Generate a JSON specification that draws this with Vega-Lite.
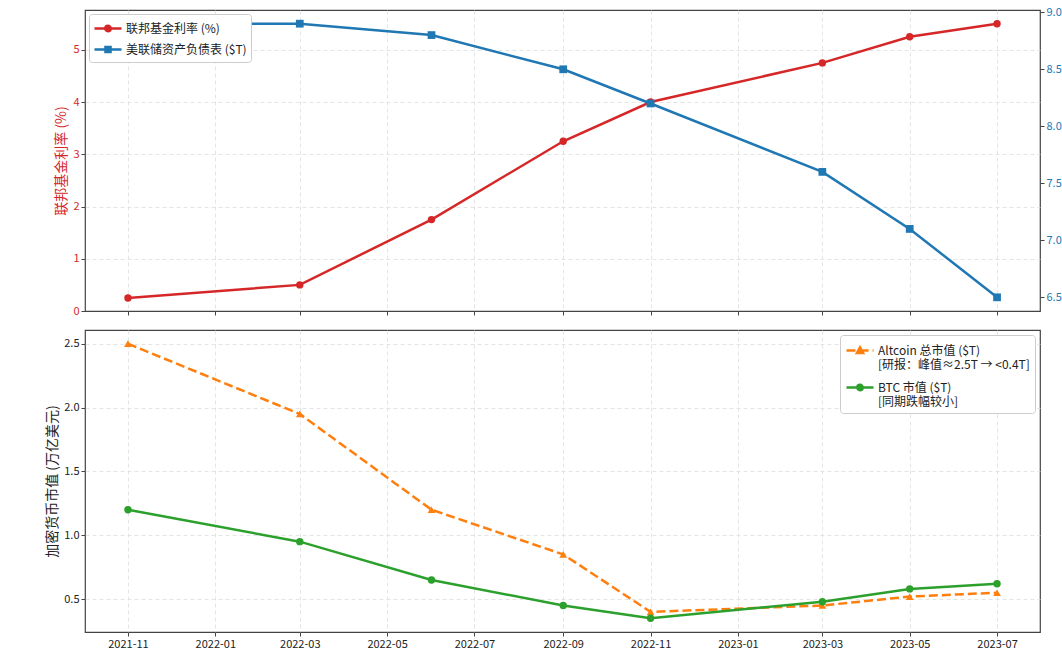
{
  "$schema": "https://vega.github.io/schema/vega-lite/v6.json",
  "padding": {"left": 45, "top": 5, "right": 0, "bottom": 5},
  "datasets": {
    "fed": [
      {"date": "2021-11-01", "series": "联邦基金利率 (%)", "value": 0.25},
      {"date": "2022-03-01", "series": "联邦基金利率 (%)", "value": 0.5},
      {"date": "2022-06-01", "series": "联邦基金利率 (%)", "value": 1.75},
      {"date": "2022-09-01", "series": "联邦基金利率 (%)", "value": 3.25},
      {"date": "2022-11-01", "series": "联邦基金利率 (%)", "value": 4.0},
      {"date": "2023-03-01", "series": "联邦基金利率 (%)", "value": 4.75},
      {"date": "2023-05-01", "series": "联邦基金利率 (%)", "value": 5.25},
      {"date": "2023-07-01", "series": "联邦基金利率 (%)", "value": 5.5},
      {"date": "2021-11-01", "series": "美联储资产负债表 ($T)", "value": 8.9},
      {"date": "2022-03-01", "series": "美联储资产负债表 ($T)", "value": 8.9},
      {"date": "2022-06-01", "series": "美联储资产负债表 ($T)", "value": 8.8},
      {"date": "2022-09-01", "series": "美联储资产负债表 ($T)", "value": 8.5},
      {"date": "2022-11-01", "series": "美联储资产负债表 ($T)", "value": 8.2},
      {"date": "2023-03-01", "series": "美联储资产负债表 ($T)", "value": 7.6},
      {"date": "2023-05-01", "series": "美联储资产负债表 ($T)", "value": 7.1},
      {"date": "2023-07-01", "series": "美联储资产负债表 ($T)", "value": 6.5}
    ],
    "crypto": [
      {"date": "2021-11-01", "asset": "Altcoin", "series": "Altcoin 总市值 ($T)|[研报：峰值≈2.5T → <0.4T]", "value": 2.5},
      {"date": "2022-03-01", "asset": "Altcoin", "series": "Altcoin 总市值 ($T)|[研报：峰值≈2.5T → <0.4T]", "value": 1.95},
      {"date": "2022-06-01", "asset": "Altcoin", "series": "Altcoin 总市值 ($T)|[研报：峰值≈2.5T → <0.4T]", "value": 1.2},
      {"date": "2022-09-01", "asset": "Altcoin", "series": "Altcoin 总市值 ($T)|[研报：峰值≈2.5T → <0.4T]", "value": 0.85},
      {"date": "2022-11-01", "asset": "Altcoin", "series": "Altcoin 总市值 ($T)|[研报：峰值≈2.5T → <0.4T]", "value": 0.4},
      {"date": "2023-03-01", "asset": "Altcoin", "series": "Altcoin 总市值 ($T)|[研报：峰值≈2.5T → <0.4T]", "value": 0.45},
      {"date": "2023-05-01", "asset": "Altcoin", "series": "Altcoin 总市值 ($T)|[研报：峰值≈2.5T → <0.4T]", "value": 0.52},
      {"date": "2023-07-01", "asset": "Altcoin", "series": "Altcoin 总市值 ($T)|[研报：峰值≈2.5T → <0.4T]", "value": 0.55},
      {"date": "2021-11-01", "asset": "BTC", "series": "BTC 市值 ($T)|[同期跌幅较小]", "value": 1.2},
      {"date": "2022-03-01", "asset": "BTC", "series": "BTC 市值 ($T)|[同期跌幅较小]", "value": 0.95},
      {"date": "2022-06-01", "asset": "BTC", "series": "BTC 市值 ($T)|[同期跌幅较小]", "value": 0.65},
      {"date": "2022-09-01", "asset": "BTC", "series": "BTC 市值 ($T)|[同期跌幅较小]", "value": 0.45},
      {"date": "2022-11-01", "asset": "BTC", "series": "BTC 市值 ($T)|[同期跌幅较小]", "value": 0.35},
      {"date": "2023-03-01", "asset": "BTC", "series": "BTC 市值 ($T)|[同期跌幅较小]", "value": 0.48},
      {"date": "2023-05-01", "asset": "BTC", "series": "BTC 市值 ($T)|[同期跌幅较小]", "value": 0.58},
      {"date": "2023-07-01", "asset": "BTC", "series": "BTC 市值 ($T)|[同期跌幅较小]", "value": 0.62}
    ]
  },
  "vconcat": [
    {
      "width": 955,
      "height": 301,
      "data": {"name": "fed"},
      "encoding": {
        "x": {
          "field": "date",
          "type": "temporal",
          "scale": {"type": "utc", "domain": [{"year": 2021, "month": 10, "date": 2, "utc": true}, {"year": 2023, "month": 7, "date": 31, "utc": true}]},
          "axis": {
            "title": null,
            "labels": false,
            "values": [
              {"year": 2021, "month": 11, "date": 1, "utc": true},
              {"year": 2022, "month": 1, "date": 1, "utc": true},
              {"year": 2022, "month": 3, "date": 1, "utc": true},
              {"year": 2022, "month": 5, "date": 1, "utc": true},
              {"year": 2022, "month": 7, "date": 1, "utc": true},
              {"year": 2022, "month": 9, "date": 1, "utc": true},
              {"year": 2022, "month": 11, "date": 1, "utc": true},
              {"year": 2023, "month": 1, "date": 1, "utc": true},
              {"year": 2023, "month": 3, "date": 1, "utc": true},
              {"year": 2023, "month": 5, "date": 1, "utc": true},
              {"year": 2023, "month": 7, "date": 1, "utc": true}
            ]
          }
        },
        "color": {
          "field": "series",
          "type": "nominal",
          "scale": {"domain": ["联邦基金利率 (%)", "美联储资产负债表 ($T)"], "range": ["#d62728", "#1f77b4"]},
          "legend": {
            "orient": "top-left",
            "offset": 4,
            "title": null,
            "fillColor": "white",
            "strokeColor": "#cccccc",
            "cornerRadius": 3,
            "padding": 4,
            "labelFontSize": 12,
            "labelColor": "#222",
            "symbolSize": 324,
            "labelOffset": 12,
            "rowPadding": 2,
            "encode": {
              "symbols": {
                "update": {
                  "shape": {"signal": "datum.value === '联邦基金利率 (%)' ? 'M-1,0H2M0.2,0a0.3,0.3 0 1,0 0.6,0a0.3,0.3 0 1,0 -0.6,0Z' : 'M-1,0H2M0.22,-0.28H0.78V0.28H0.22Z'"},
                  "fill": {"signal": "datum.value === '联邦基金利率 (%)' ? '#d62728' : '#1f77b4'"},
                  "stroke": {"signal": "datum.value === '联邦基金利率 (%)' ? '#d62728' : '#1f77b4'"},
                  "strokeWidth": {"value": 2.5},
                  "opacity": {"value": 1}
                }
              }
            }
          }
        }
      },
      "layer": [
        {
          "transform": [{"filter": "datum.series === '联邦基金利率 (%)'"}],
          "mark": {"type": "line", "strokeWidth": 2.5, "point": {"filled": true, "shape": "circle", "size": 55, "opacity": 1}},
          "encoding": {
            "y": {
              "field": "value",
              "type": "quantitative",
              "scale": {"domain": [0, 5.7625], "nice": false, "zero": false},
              "axis": {
                "title": "联邦基金利率 (%)",
                "titleColor": "#d62728",
                "labelColor": "#d62728",
                "values": [0, 1, 2, 3, 4, 5],
                "format": "d",
                "gridColor": {"condition": {"test": "datum.value === 0", "value": "transparent"}, "value": "#dddddd"}
              }
            }
          }
        },
        {
          "transform": [{"filter": "datum.series === '美联储资产负债表 ($T)'"}],
          "mark": {"type": "line", "strokeWidth": 2.5, "point": {"filled": true, "shape": "square", "size": 60, "opacity": 1}},
          "encoding": {
            "y": {
              "field": "value",
              "type": "quantitative",
              "scale": {"domain": [6.38, 9.02], "nice": false, "zero": false},
              "axis": {
                "orient": "right",
                "title": null,
                "grid": false,
                "labelColor": "#1f77b4",
                "values": [6.5, 7.0, 7.5, 8.0, 8.5, 9.0],
                "format": ".1f"
              }
            }
          }
        }
      ],
      "resolve": {"scale": {"y": "independent"}}
    },
    {
      "width": 955,
      "height": 302,
      "data": {"name": "crypto"},
      "encoding": {
        "x": {
          "field": "date",
          "type": "temporal",
          "scale": {"type": "utc", "domain": [{"year": 2021, "month": 10, "date": 2, "utc": true}, {"year": 2023, "month": 7, "date": 31, "utc": true}]},
          "axis": {
            "title": null,
            "labelExpr": "utcFormat(datum.value, '%Y-%m')",
            "values": [
              {"year": 2021, "month": 11, "date": 1, "utc": true},
              {"year": 2022, "month": 1, "date": 1, "utc": true},
              {"year": 2022, "month": 3, "date": 1, "utc": true},
              {"year": 2022, "month": 5, "date": 1, "utc": true},
              {"year": 2022, "month": 7, "date": 1, "utc": true},
              {"year": 2022, "month": 9, "date": 1, "utc": true},
              {"year": 2022, "month": 11, "date": 1, "utc": true},
              {"year": 2023, "month": 1, "date": 1, "utc": true},
              {"year": 2023, "month": 3, "date": 1, "utc": true},
              {"year": 2023, "month": 5, "date": 1, "utc": true},
              {"year": 2023, "month": 7, "date": 1, "utc": true}
            ]
          }
        },
        "y": {
          "field": "value",
          "type": "quantitative",
          "scale": {"domain": [0.2425, 2.6075], "nice": false, "zero": false},
          "axis": {
            "title": "加密货币市值 (万亿美元)",
            "values": [0.5, 1.0, 1.5, 2.0, 2.5],
            "format": ".1f"
          }
        },
        "color": {
          "field": "series",
          "type": "nominal",
          "scale": {"domain": ["Altcoin 总市值 ($T)|[研报：峰值≈2.5T → <0.4T]", "BTC 市值 ($T)|[同期跌幅较小]"], "range": ["#ff7f0e", "#2ca02c"]},
          "legend": {
            "orient": "top-right",
            "offset": 5,
            "title": null,
            "fillColor": "white",
            "strokeColor": "#cccccc",
            "cornerRadius": 3,
            "padding": 5,
            "labelFontSize": 12,
            "labelColor": "#222",
            "labelExpr": "split(datum.label, '|')",
            "labelLimit": 300,
            "symbolSize": 324,
            "labelOffset": 12,
            "rowPadding": 6,
            "encode": {
              "symbols": {
                "update": {
                  "shape": {"signal": "datum.value === 'BTC 市值 ($T)|[同期跌幅较小]' ? 'M-1,0H2M0.2,0a0.3,0.3 0 1,0 0.6,0a0.3,0.3 0 1,0 -0.6,0Z' : 'M-1,0H0M0.45,0H1.45M1.9,0H2M0.5,-0.34L0.84,0.28H0.16Z'"},
                  "fill": {"signal": "datum.value === 'BTC 市值 ($T)|[同期跌幅较小]' ? '#2ca02c' : '#ff7f0e'"},
                  "stroke": {"signal": "datum.value === 'BTC 市值 ($T)|[同期跌幅较小]' ? '#2ca02c' : '#ff7f0e'"},
                  "strokeWidth": {"value": 2.5},
                  "opacity": {"value": 1}
                }
              }
            }
          }
        }
      },
      "layer": [
        {
          "transform": [{"filter": "datum.asset === 'Altcoin'"}],
          "mark": {"type": "line", "strokeWidth": 2.5, "strokeDash": [9, 4], "point": {"filled": true, "shape": "triangle-up", "size": 60, "opacity": 1}}
        },
        {
          "transform": [{"filter": "datum.asset === 'BTC'"}],
          "mark": {"type": "line", "strokeWidth": 2.5, "point": {"filled": true, "shape": "circle", "size": 55, "opacity": 1}}
        }
      ]
    }
  ],
  "resolve": {"scale": {"color": "independent"}, "legend": {"color": "independent"}},
  "spacing": 19,
  "bounds": "flush",
  "config": {
    "font": "Noto Sans CJK SC",
    "background": "white",
    "view": {"stroke": "#444444", "strokeWidth": 1.2},
    "axis": {
      "domain": false,
      "labelFont": "Noto Sans CJK SC",
      "titleFont": "Noto Sans CJK SC",
      "labelFontSize": 11,
      "labelColor": "#222222",
      "titleFontSize": 14,
      "titleFontWeight": "normal",
      "titleColor": "#222222",
      "tickColor": "#444444",
      "tickSize": 4,
      "grid": true,
      "gridColor": "#dddddd",
      "gridDash": [4, 3],
      "gridWidth": 0.8
    },
    "legend": {"labelFont": "Noto Sans CJK SC"}
  }
}
